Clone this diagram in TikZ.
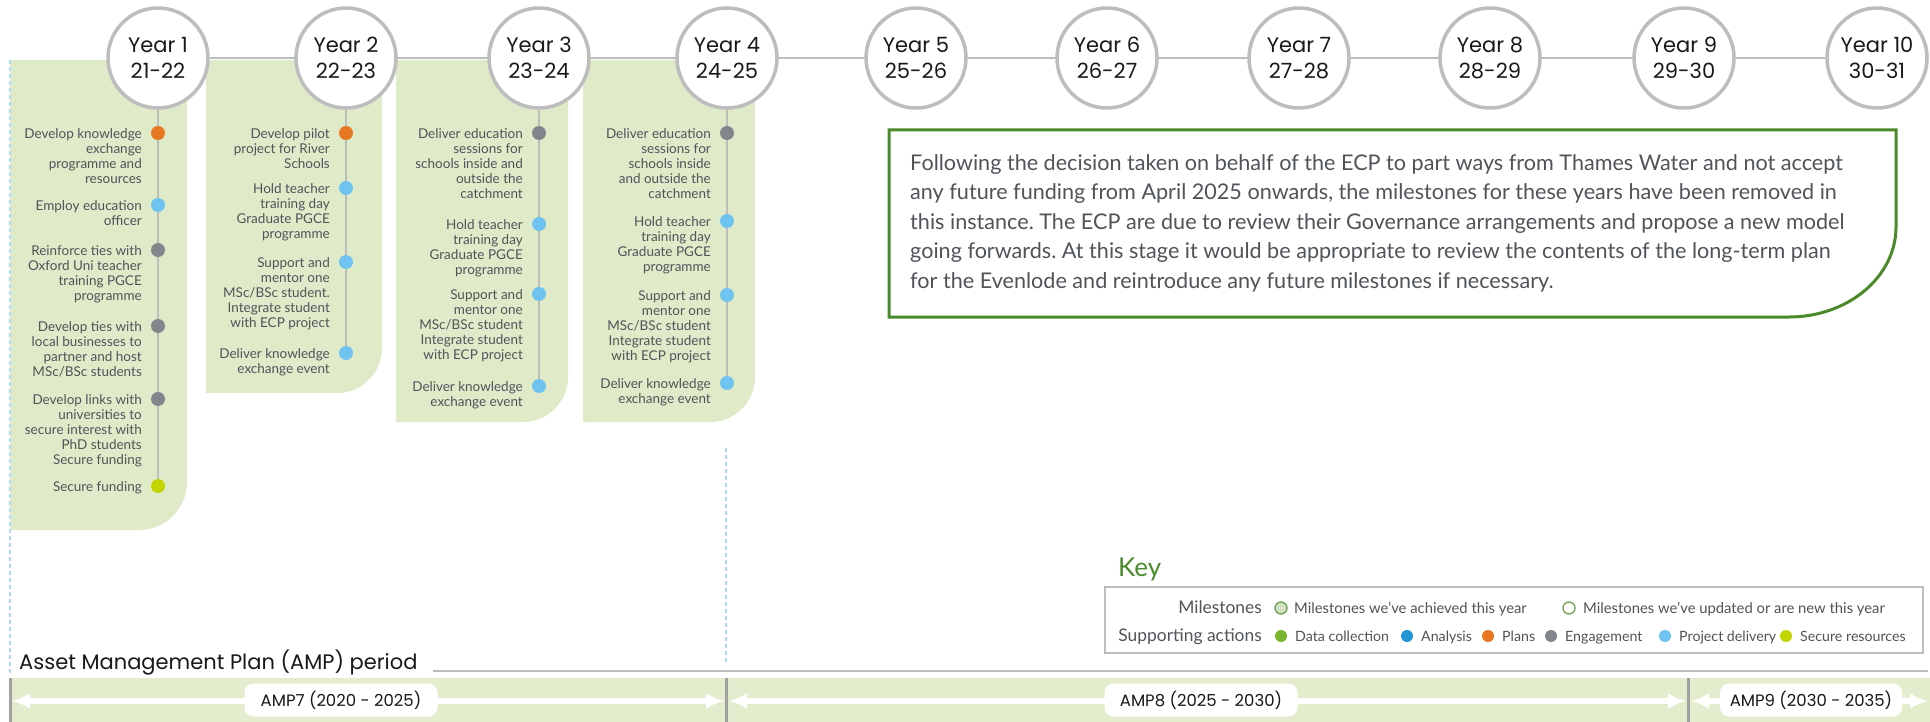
\documentclass[tikz,border=0pt]{standalone}
\usepackage{fontspec}
\setmainfont{Lato}
\newfontfamily\geo{Poppins}
\usetikzlibrary{arrows.meta,backgrounds}
\frenchspacing
\definecolor{pgreen}{HTML}{DFEAC9}
\definecolor{agreen}{HTML}{E3EDCD}
\definecolor{cgrey}{HTML}{BDBDBD}
\definecolor{tgrey}{HTML}{4F5459}
\definecolor{bgreen}{HTML}{4A8A2B}
\definecolor{dorange}{HTML}{E87722}
\definecolor{dlblue}{HTML}{6EC3F0}
\definecolor{dgrey}{HTML}{80868C}
\definecolor{dygreen}{HTML}{C2D500}
\definecolor{dgreen}{HTML}{7AB32E}
\definecolor{dblue}{HTML}{2196D6}
\definecolor{dashblue}{HTML}{A9DDF5}
\newcommand{\stt}[1]{\rule{0pt}{#1pt}}
\newcommand{\panelshape}[4]{\fill[pgreen] (#1,60) -- (#2,60) -- (#2,#3-#4) arc[start angle=0,end angle=90,radius=#4] -- (#1,#3) -- cycle;}
\newcommand{\act}[5]{\node[actdot=#4] (#1) at (#2,#3) {};
  \node[acttext] (#1t) at ([shift={(-16,-6)}]#1.center) {\stt{11}#5};}
\begin{document}
\begin{tikzpicture}[x=1pt,y=-1pt,
 yearc/.style={circle,draw=cgrey,line width=3.5pt,fill=white,minimum size=100pt,inner sep=0pt,align=center,font=\geo\fontsize{21}{25.5}\selectfont,text=black!90},
 actdot/.style={circle,inner sep=0pt,minimum size=14pt,fill=#1},
 acttext/.style={anchor=north east,inner sep=0pt,align=right,text=tgrey,font=\fontsize{13.5}{15}\selectfont},
 vline/.style={draw=cgrey,line width=2pt},
 tline/.style={draw=cgrey,line width=2.5pt},
 dashv/.style={draw=dashblue,line width=1.6pt,dash pattern=on 4pt off 3pt},
 keyl/.style={anchor=base east,inner sep=0pt,text=tgrey,font=\fontsize{17.4}{19}\selectfont},
 keyt/.style={anchor=base west,inner sep=0pt,text=tgrey,font=\fontsize{14.8}{16}\selectfont},
 keyt2/.style={anchor=base west,inner sep=0pt,text=tgrey,font=\fontsize{14.2}{16}\selectfont},
 kdot/.style={circle,inner sep=0pt,minimum size=12pt,fill=#1},
 kring/.style={circle,inner sep=0pt,minimum size=12pt,draw=bgreen!80,line width=1.3pt,fill=#1},
 amparrow/.style={draw=white,line width=6pt,{Latex[length=18pt,width=16pt]}-{Latex[length=18pt,width=16pt]}},
 amplab/.style={fill=white,rounded corners=9pt,minimum width=193pt,minimum height=33pt,inner sep=0pt,font=\geo\fontsize{16.5}{18}\selectfont,text=black!90},
 sepl/.style={draw=cgrey!85!black,line width=3pt}
]
\useasboundingbox (0,0) rectangle (1930,722);
\begin{scope}[on background layer]
 \fill[white] (0,0) rectangle (1930,722);
 \panelshape{10}{187}{530}{48}
 \panelshape{206}{382}{393}{45}
 \panelshape{396}{568}{422}{45}
 \panelshape{583}{755}{422}{45}
 \fill[agreen] (10,678) rectangle (1930,722);
\end{scope}

% year circles
\foreach \i/\x/\r in {1/158/21-22,2/346/22-23,3/539/23-24,4/727/24-25,5/916/25-26,6/1107/26-27,7/1299/27-28,8/1490/28-29,9/1684/29-30,10/1877/30-31}
  \node[yearc] (y\i) at (\x,58) {Year \i\\\r};

% column 1
\act{a11}{158}{133}{dorange}{Develop knowledge\\exchange\\programme and\\resources}
\act{a12}{158}{205}{dlblue}{Employ education\\officer}
\act{a13}{158}{250}{dgrey}{Reinforce ties with\\Oxford Uni teacher\\training PGCE\\programme}
\act{a14}{158}{326}{dgrey}{Develop ties with\\local businesses to\\partner and host\\MSc/BSc students}
\act{a15}{158}{399}{dgrey}{Develop links with\\universities to\\secure interest with\\PhD students\\Secure funding}
\act{a16}{158}{486}{dygreen}{Secure funding}
% column 2
\act{a21}{346}{133}{dorange}{Develop pilot\\project for River\\Schools}
\act{a22}{346}{188}{dlblue}{Hold teacher\\training day\\Graduate PGCE\\programme}
\act{a23}{346}{262}{dlblue}{Support and\\mentor one\\MSc/BSc student.\\Integrate student\\with ECP project}
\act{a24}{346}{353}{dlblue}{Deliver knowledge\\exchange event}
% column 3
\act{a31}{539}{133}{dgrey}{Deliver education\\sessions for\\schools inside and\\outside the\\catchment}
\act{a32}{539}{224}{dlblue}{Hold teacher\\training day\\Graduate PGCE\\programme}
\act{a33}{539}{294}{dlblue}{Support and\\mentor one\\MSc/BSc student\\Integrate student\\with ECP project}
\act{a34}{539}{386}{dlblue}{Deliver knowledge\\exchange event}
% column 4
\act{a41}{727}{133}{dgrey}{Deliver education\\sessions for\\schools inside\\and outside the\\catchment}
\act{a42}{727}{221}{dlblue}{Hold teacher\\training day\\Graduate PGCE\\programme}
\act{a43}{727}{295}{dlblue}{Support and\\mentor one\\MSc/BSc student\\Integrate student\\with ECP project}
\act{a44}{727}{383}{dlblue}{Deliver knowledge\\exchange event}

% dashed guides
\coordinate (g1a) at (10,60);
\coordinate (g1b) at (10,676);
\coordinate (g2a) at (726,448);
\coordinate (g2b) at (726,662);

\begin{scope}[on background layer]
 \draw[tline] (y1) -- (y10);
 \draw[vline] (y1.south) -- (a16.center);
 \draw[vline] (y2.south) -- (a24.center);
 \draw[vline] (y3.south) -- (a34.center);
 \draw[vline] (y4.south) -- (a44.center);
 \draw[dashv] (g1a) -- (g1b);
 \draw[dashv] (g2a) -- (g2b);
\end{scope}

% note box
\draw[bgreen,line width=3pt] (889,130) -- (1896,130) -- (1896,227) arc[start angle=0,end angle=90,x radius=107,y radius=90] -- (889,317) -- cycle;
\node[anchor=north west,inner sep=0pt,align=left,text=tgrey,font=\fontsize{21.6}{29.5}\selectfont] (note) at (910,154)
 {\stt{15}Following the decision taken on behalf of the ECP to part ways from Thames Water and not accept\\
 any future funding from April 2025 onwards, the milestones for these years have been removed in\\
 this instance. The ECP are due to review their Governance arrangements and propose a new model\\
 going forwards. At this stage it would be appropriate to review the contents of the long-term plan\\
 for the Evenlode and reintroduce any future milestones if necessary.};

% key
\node[anchor=base west,inner sep=0pt,text=bgreen,font=\fontsize{26}{28}\selectfont] (keytitle) at (1118,576) {Key};
\draw[cgrey,line width=2pt] (1105,587) rectangle (1923,653);
\node[keyl] (kl1) at (1262,613) {Milestones};
\node[kring=pgreen!70!bgreen!60] (km1) at (1281,608) {};
\node[keyt] (km1t) at (1294,613) {Milestones we’ve achieved this year};
\node[kring=white] (km2) at (1569,608) {};
\node[keyt] (km2t) at (1583,613) {Milestones we’ve updated or are new this year};
\node[keyl] (kl2) at (1262,641) {Supporting actions};
\foreach \n/\x/\c/\t in {1/1281/dgreen/Data collection,2/1407/dblue/Analysis,3/1488/dorange/Plans,4/1551/dgrey/Engagement,5/1665/dlblue/Project delivery,6/1786/dygreen/Secure resources}{
  \node[kdot=\c] (kd\n) at (\x,636) {};
  \node[keyt2] (kd\n t) at (\x+14,641) {\t};
}

% AMP
\node[anchor=base west,inner sep=0pt,text=black!90,font=\geo\fontsize{21}{24}\selectfont] (amptitle) at (19,669) {Asset Management Plan (AMP) period};
\coordinate (al1) at (433,671);
\coordinate (al2) at (1928,671);
\draw[cgrey,line width=2pt] (al1) -- (al2);
\coordinate (s0t) at (10,678); \coordinate (s0b) at (10,722);
\coordinate (s1t) at (726,678); \coordinate (s1b) at (726,722);
\coordinate (s2t) at (1688,678); \coordinate (s2b) at (1688,722);
\draw[sepl] (s0t) -- (s0b);
\draw[sepl] (s1t) -- (s1b);
\draw[sepl] (s2t) -- (s2b);
\coordinate (p0) at (12,701);
\coordinate (p1) at (724,701);
\coordinate (p1r) at (729,701);
\coordinate (p2) at (1686,701);
\coordinate (p2r) at (1691,701);
\coordinate (p3) at (1928,701);
\draw[amparrow] (p0) -- (p1);
\draw[amparrow] (p1r) -- (p2);
\draw[amparrow] (p2r) -- (p3);
\node[amplab] (amp7) at (341,700) {AMP7 (2020 - 2025)};
\node[amplab] (amp8) at (1201,700) {AMP8 (2025 - 2030)};
\node[amplab,minimum width=182pt] (amp9) at (1811,700) {AMP9 (2030 - 2035)};
\end{tikzpicture}
\end{document}
